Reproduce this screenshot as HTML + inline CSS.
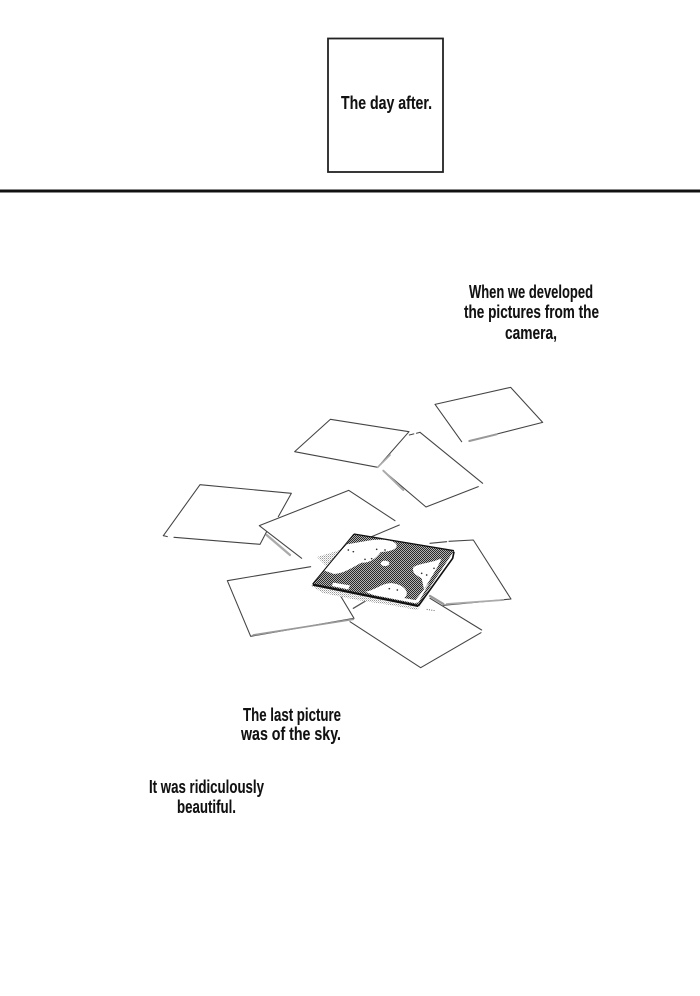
<!DOCTYPE html>
<html><head><meta charset="utf-8"><style>
html,body{margin:0;padding:0;background:#fff}
svg{display:block}
text{font-family:"Liberation Sans Narrow","Liberation Sans",sans-serif;font-weight:bold;font-size:18.500px;fill:#111;stroke:#111;stroke-width:.1px}
</style></head><body>
<svg width="700" height="996" viewBox="0 0 700 996" xmlns="http://www.w3.org/2000/svg">
<defs>
<pattern id="ht" width="2" height="2" patternUnits="userSpaceOnUse"><rect width="2" height="2" fill="#b4b4b4"/><rect width="1" height="1" fill="#2a2a2a"/><rect x="1" y="1" width="1" height="1" fill="#2a2a2a"/></pattern>
<pattern id="lt" width="2" height="2" patternUnits="userSpaceOnUse"><rect width="2" height="2" fill="#fff"/><rect width="1" height="1" fill="#999"/><rect x="1" y="1" width="1" height="1" fill="#ccc"/></pattern>
</defs>
<rect width="700" height="996" fill="#fff"/>
<rect x="328" y="38.500" width="115" height="133.500" fill="#fff" stroke="#222" stroke-width="1.800"/>
<rect x="0" y="189.500" width="700" height="3" fill="#111"/>
<text x="341" y="109" textLength="91" lengthAdjust="spacingAndGlyphs">The day after.</text>
<text x="469" y="298" textLength="124" lengthAdjust="spacingAndGlyphs">When we developed</text>
<text x="464" y="318" textLength="135" lengthAdjust="spacingAndGlyphs">the pictures from the</text>
<text x="505" y="339" textLength="52" lengthAdjust="spacingAndGlyphs">camera,</text>
<text x="243" y="721" textLength="98" lengthAdjust="spacingAndGlyphs">The last picture</text>
<text x="241" y="740" textLength="100" lengthAdjust="spacingAndGlyphs">was of the sky.</text>
<text x="149" y="793" textLength="115" lengthAdjust="spacingAndGlyphs">It was ridiculously</text>
<text x="177" y="813" textLength="59" lengthAdjust="spacingAndGlyphs">beautiful.</text>

<g transform="translate(150 380) scale(.33333)" fill="none" stroke="#444" stroke-width="3.200" stroke-linecap="round" stroke-linejoin="round">
<path d="M935,185 L855,73 L1082,22 L1178,127 L958,183" />
<path d="M958,183 L1040,163" stroke="#999" stroke-width="6"/>
<path d="M810,157 L998,310 M985,320 L828,381 L700,272" />
<path d="M700,272 L760,330" stroke="#aaa" stroke-width="6"/>
<path d="M778,165 L810,157" stroke-dasharray="14 8"/>
<path d="M777,155 L541,118 L434,215 L683,262 L777,155" />
<path d="M683,262 L720,225" stroke="#aaa" stroke-width="5"/>
<path d="M330,493 L72,472 M40,467 L150,314 L424,340 L385,410 M350,455 L330,493" />
<path d="M40,467 L52,470"/>
<path d="M328,437 L596,331 L735,422 M748,435 L665,470 M328,437 L455,535" />
<path d="M350,465 L420,525" stroke="#aaa" stroke-width="7"/>
<path d="M232,602 L482,560 M232,602 L302,769 L612,715 L570,645" />
<path d="M310,765 L610,718" stroke="#999" stroke-width="5"/>
<path d="M600,725 L812,863 L993,758 M995,750 L840,655" />
<path d="M840,490 L890,485 M897,484 L970,480 L1083,657 L880,676" />
<path d="M890,672 L1060,660" stroke="#aaa" stroke-width="5"/>
<path d="M840,648 L880,672" stroke="#999" stroke-width="7"/>
<path d="M610,685 L660,655" stroke="#555" stroke-width="4"/>
<path d="M520,540 L575,510" stroke="#888" stroke-width="6"/>
</g>

<polygon points="310,585 418,608 430,595 417,610 390,605 357,600 323,593" fill="url(#lt)"/>
<polygon points="317,557 340,550 327,567" fill="url(#lt)"/>
<polygon points="354,534 454,550.700 418.300,605 312.700,584" fill="url(#ht)"/>

<g transform="translate(290 510) scale(.33333)">
<g fill="#fff">
<path d="M170,103 L235,92 C270,85 315,90 320,105 C322,120 295,125 272,126 C262,142 240,160 215,158 C190,170 165,190 132,192 L103,182 L125,155 Z"/>
<path d="M370,172 C385,160 420,160 455,145 L442,172 L402,238 L395,205 C380,195 365,190 370,172 Z"/>
<path d="M225,245 C260,240 280,215 310,220 C345,225 362,250 342,264 L385,272 L378,280 L250,255 Z"/>
<path d="M130,218 L180,226 L175,238 L125,228 Z"/>
<ellipse cx="285" cy="160" rx="13" ry="8"/>
<path d="M402,238 L420,215 L385,278 L372,276 Z"/>
</g>
<g fill="#333">
<circle cx="175" cy="120" r="2.500"/><circle cx="190" cy="125" r="2.500"/><circle cx="260" cy="118" r="2.500"/><circle cx="285" cy="120" r="2.500"/><circle cx="225" cy="148" r="2.500"/><circle cx="245" cy="146" r="2.500"/><circle cx="395" cy="190" r="2.500"/><circle cx="410" cy="195" r="2.500"/><circle cx="298" cy="236" r="2.500"/><circle cx="322" cy="240" r="2.500"/><circle cx="432" cy="175" r="2.500"/>
</g>
<path d="M192,72 L68,222" stroke="#111" stroke-width="3" fill="none"/>
<path d="M68,224 L385,288" stroke="#111" stroke-width="7" fill="none"/>
<path d="M492,125 L488,145 L385,288" stroke="#111" stroke-width="5" fill="none"/>
<path d="M192,72 L492,122" stroke="#111" stroke-width="4" fill="none"/>
<path d="M410,298 L435,302" stroke="#666" stroke-width="3" stroke-dasharray="3 4" fill="none"/>
</g>
</svg>
</body></html>
